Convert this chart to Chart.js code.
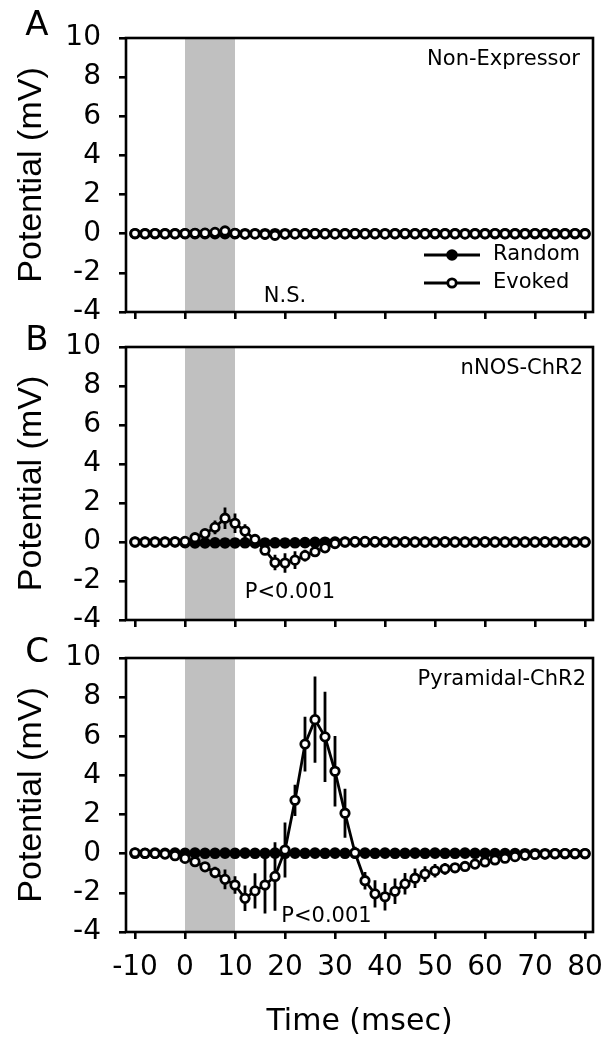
<!DOCTYPE html>
<html>
<head>
<meta charset="utf-8">
<script src="https://cdn.jsdelivr.net/npm/chart.js@4"></script>
<style>
    html, body { margin: 0; padding: 0; background: #fff; }
    body { width: 605px; height: 1045px; position: relative; overflow: hidden; }
    .panel { position: absolute; left: 0; width: 605px; }
    .panel canvas { display: block; }
</style>
</head>
<body>
<div class="panel" style="top:0px"><canvas id="chartA" width="605" height="335"></canvas></div>
<div class="panel" style="top:325px"><canvas id="chartB" width="605" height="320"></canvas></div>
<div class="panel" style="top:635px"><canvas id="chartC" width="605" height="410"></canvas></div>
<script>
// time after stimulus onset (msec)
const time = [-10, -8, -6, -4, -2, 0, 2, 4, 6, 8,
    10, 12, 14, 16, 18, 20, 22, 24, 26, 28,
    30, 32, 34, 36, 38, 40, 42, 44, 46, 48,
    50, 52, 54, 56, 58, 60, 62, 64, 66, 68,
    70, 72, 74, 76, 78, 80];
const xTicks = [-10, 0, 10, 20, 30, 40, 50, 60, 70, 80];
const yTicks = [-4, -2, 0, 2, 4, 6, 8, 10];
// light pulse (grey band)
const stimWindow = [0, 10];

// A - Non-Expressor
const evokedA = [0.01, 0.00, 0.01, 0.00, 0.00, 0.01, 0.02, 0.03, 0.07, 0.14,
    0.02, -0.02, -0.01, -0.03, -0.08, -0.02, -0.01, 0.00, 0.01, 0.00,
    -0.01, 0.00, 0.01, 0.00, 0.00, -0.01, 0.00, 0.01, 0.00, 0.00,
    0.01, 0.00, 0.00, -0.01, 0.00, 0.00, 0.01, 0.00, 0.00, 0.00,
    0.01, 0.00, 0.00, 0.00, 0.01, 0.00];
const evokedErrA = [0.04, 0.04, 0.04, 0.04, 0.04, 0.05, 0.05, 0.06, 0.08, 0.10,
    0.08, 0.06, 0.05, 0.05, 0.06, 0.05, 0.04, 0.04, 0.04, 0.04,
    0.04, 0.04, 0.04, 0.04, 0.04, 0.04, 0.04, 0.04, 0.04, 0.04,
    0.04, 0.04, 0.04, 0.04, 0.04, 0.04, 0.04, 0.04, 0.04, 0.04,
    0.04, 0.04, 0.04, 0.04, 0.04, 0.04];
const randomA = [0.00, 0.00, 0.00, 0.00, 0.00, 0.00, 0.00, 0.00, 0.00, 0.00,
    0.00, 0.00, 0.00, 0.00, 0.00, 0.00, 0.00, 0.00, 0.00, 0.00,
    0.00, 0.00, 0.00, 0.00, 0.00, 0.00, 0.00, 0.00, 0.00, 0.00,
    0.00, 0.00, 0.00, 0.00, 0.00, 0.00, 0.00, 0.00, 0.00, 0.00,
    0.00, 0.00, 0.00, 0.00, 0.00, 0.00];

// B - nNOS-ChR2
const evokedB = [0.00, 0.00, 0.00, 0.00, 0.01, 0.03, 0.22, 0.43, 0.75, 1.22,
    0.96, 0.56, 0.13, -0.42, -1.05, -1.08, -0.93, -0.70, -0.50, -0.30,
    -0.08, 0.00, 0.02, 0.03, 0.02, 0.01, 0.00, 0.01, 0.00, 0.00,
    0.00, 0.01, 0.00, 0.00, 0.00, 0.01, 0.00, 0.00, 0.00, 0.00,
    0.00, 0.01, 0.00, 0.00, 0.00, 0.00];
const evokedErrB = [0.05, 0.05, 0.05, 0.05, 0.05, 0.08, 0.15, 0.22, 0.35, 0.55,
    0.50, 0.35, 0.20, 0.25, 0.40, 0.50, 0.45, 0.30, 0.20, 0.15,
    0.10, 0.06, 0.05, 0.05, 0.05, 0.05, 0.05, 0.05, 0.05, 0.05,
    0.05, 0.05, 0.05, 0.05, 0.05, 0.05, 0.05, 0.05, 0.05, 0.05,
    0.05, 0.05, 0.05, 0.05, 0.05, 0.05];
const randomB = [0.00, 0.00, 0.00, 0.00, 0.00, -0.03, -0.05, -0.05, -0.04, -0.05,
    -0.05, -0.04, -0.05, -0.05, -0.04, -0.05, -0.04, -0.03, -0.02, -0.01,
    0.00, 0.00, 0.00, 0.00, 0.00, 0.00, 0.00, 0.00, 0.00, 0.00,
    0.00, 0.00, 0.00, 0.00, 0.00, 0.00, 0.00, 0.00, 0.00, 0.00,
    0.00, 0.00, 0.00, 0.00, 0.00, 0.00];

// C - Pyramidal-ChR2
const evokedC = [0.05, 0.02, 0.01, -0.02, -0.10, -0.24, -0.41, -0.67, -0.96, -1.31,
    -1.60, -2.28, -1.90, -1.60, -1.16, 0.19, 2.73, 5.60, 6.85, 5.97,
    4.21, 2.07, 0.05, -1.38, -2.05, -2.20, -1.92, -1.54, -1.25, -1.04,
    -0.87, -0.77, -0.72, -0.65, -0.53, -0.42, -0.32, -0.23, -0.15, -0.08,
    -0.04, -0.02, 0.00, 0.01, 0.01, 0.01];
const evokedErrC = [0.05, 0.05, 0.05, 0.05, 0.08, 0.10, 0.15, 0.20, 0.30, 0.50,
    0.45, 0.65, 0.90, 1.45, 1.75, 1.40, 0.80, 1.40, 2.20, 2.30,
    1.80, 1.25, 0.30, 0.45, 0.70, 0.70, 0.65, 0.55, 0.50, 0.40,
    0.35, 0.30, 0.25, 0.20, 0.15, 0.12, 0.10, 0.08, 0.06, 0.05,
    0.05, 0.05, 0.05, 0.05, 0.05, 0.05];
const randomC = [0.02, 0.02, 0.03, 0.02, 0.03, 0.02, 0.03, 0.02, 0.02, 0.03,
    0.02, 0.03, 0.02, 0.02, 0.03, 0.02, 0.03, 0.02, 0.03, 0.02,
    0.03, 0.02, 0.02, 0.03, 0.02, 0.03, 0.02, 0.02, 0.03, 0.02,
    0.03, 0.02, 0.02, 0.03, 0.02, 0.02, 0.01, 0.01, 0.01, 0.00,
    0.00, 0.00, 0.00, 0.00, 0.00, 0.00];
const randomErr = [0.06, 0.06, 0.06, 0.06, 0.06, 0.06, 0.06, 0.06, 0.06, 0.06,
    0.06, 0.06, 0.06, 0.06, 0.06, 0.06, 0.06, 0.06, 0.06, 0.06,
    0.06, 0.06, 0.06, 0.06, 0.06, 0.06, 0.06, 0.06, 0.06, 0.06,
    0.06, 0.06, 0.06, 0.06, 0.06, 0.06, 0.06, 0.06, 0.06, 0.06,
    0.06, 0.06, 0.06, 0.06, 0.06, 0.06];

const labelFont = "DejaVu Sans";

// panel layout (pixels inside each canvas)
const panels = [
    { id: "chartA", letter: "A", name: "Non-Expressor", stat: "N.S.", statAt: [20, -3.2],
      evoked: evokedA, evokedErr: evokedErrA, random: randomA,
      padTop: 38, xHeight: 23, letterDy: -12, nameDx: -13, showX: false, legend: true },
    { id: "chartB", letter: "B", name: "nNOS-ChR2", stat: "P<0.001", statAt: [21, -2.6],
      evoked: evokedB, evokedErr: evokedErrB, random: randomB,
      padTop: 22, xHeight: 25, letterDy: -6, nameDx: -10, showX: false, legend: false },
    { id: "chartC", letter: "C", name: "Pyramidal-ChR2", stat: "P<0.001", statAt: [28.3, -3.2],
      evoked: evokedC, evokedErr: evokedErrC, random: randomC,
      padTop: 23, xHeight: 113, letterDy: -5, nameDx: -7, showX: true, legend: false },
];

const panelDecor = {
    id: "panelDecor",
    beforeDatasetsDraw(chart) {
        const { ctx, chartArea: a, scales: { x } } = chart;
        const x0 = x.getPixelForValue(stimWindow[0]);
        const x1 = x.getPixelForValue(stimWindow[1]);
        ctx.save();
        ctx.fillStyle = "#c0c0c0";
        ctx.fillRect(x0, a.top, x1 - x0, a.bottom - a.top);
        ctx.restore();
    },
    // error bars go under each series' own markers
    beforeDatasetDraw(chart, args) {
        const ds = chart.data.datasets[args.index];
        if (!ds.errors) return;
        const { ctx, scales: { x, y } } = chart;
        ctx.save();
        ctx.strokeStyle = "#000";
        ctx.lineWidth = 2.8;
        ctx.beginPath();
        ds.data.forEach((p, i) => {
            const px = x.getPixelForValue(p.x);
            ctx.moveTo(px, y.getPixelForValue(p.y - ds.errors[i]));
            ctx.lineTo(px, y.getPixelForValue(p.y + ds.errors[i]));
        });
        ctx.stroke();
        ctx.restore();
    },
    afterDatasetsDraw(chart, args, opts) {
        const { ctx, chartArea: a, scales: { x, y } } = chart;
        const cfg = opts.cfg;
        ctx.save();
        ctx.strokeStyle = "#000";
        ctx.lineWidth = 2.6;
        ctx.strokeRect(a.left, a.top, a.right - a.left, a.bottom - a.top);

        ctx.fillStyle = "#000";
        ctx.textBaseline = "middle";
        ctx.font = "34px " + labelFont;
        ctx.textAlign = "center";
        ctx.fillText(cfg.letter, a.left - 89, a.top + cfg.letterDy);

        ctx.font = "21px " + labelFont;
        ctx.textAlign = "right";
        ctx.fillText(cfg.name, a.right + cfg.nameDx, a.top + 22);

        ctx.textAlign = "center";
        ctx.fillText(cfg.stat, x.getPixelForValue(cfg.statAt[0]), y.getPixelForValue(cfg.statAt[1]));

        if (cfg.legend) {
            const items = [chart.data.datasets[1], chart.data.datasets[0]];
            items.forEach((ds, i) => {
                const ly = a.bottom - 57 + i * 28;
                const lx = a.right - 169;
                ctx.beginPath();
                ctx.lineWidth = ds.borderWidth;
                ctx.moveTo(lx, ly);
                ctx.lineTo(lx + 56, ly);
                ctx.stroke();
                ctx.beginPath();
                ctx.arc(lx + 28, ly, ds.pointRadius, 0, Math.PI * 2);
                ctx.fillStyle = ds.pointBackgroundColor;
                ctx.fill();
                ctx.lineWidth = ds.pointBorderWidth;
                ctx.stroke();
                ctx.fillStyle = "#000";
                ctx.textAlign = "left";
                ctx.fillText(ds.label, lx + 69, ly);
            });
        }
        ctx.restore();
    }
};

function makePanel(cfg) {
    const evokedPts = time.map((t, i) => ({ x: t, y: cfg.evoked[i] }));
    const randomPts = time.map((t, i) => ({ x: t, y: cfg.random[i] }));

    new Chart(document.getElementById(cfg.id), {
        type: "line",
        data: {
            datasets: [
                {
                    label: "Evoked",
                    data: evokedPts,
                    errors: cfg.evokedErr,
                    borderColor: "#000",
                    borderWidth: 2.8,
                    pointRadius: 4.2,
                    pointBorderWidth: 2.8,
                    pointBackgroundColor: "#fff",
                    pointBorderColor: "#000",
                    tension: 0,
                },
                {
                    label: "Random",
                    data: randomPts,
                    errors: randomErr,
                    borderColor: "#000",
                    borderWidth: 2.8,
                    pointRadius: 4.8,
                    pointBorderWidth: 2,
                    pointBackgroundColor: "#000",
                    pointBorderColor: "#000",
                    tension: 0,
                },
            ],
        },
        options: {
            responsive: false,
            animation: false,
            events: [],
            layout: { padding: { left: 0, right: 12, top: cfg.padTop, bottom: 0 } },
            plugins: {
                legend: { display: false },
                tooltip: { enabled: false },
                panelDecor: { cfg: cfg },
            },
            scales: {
                x: {
                    type: "linear",
                    min: -11.8,
                    max: 81.6,
                    afterBuildTicks: (s) => {
                        s.ticks = xTicks.map((v) => ({ value: v }));
                    },
                    afterFit: (s) => {
                        s.height = cfg.xHeight;
                        s.paddingLeft = 0;
                        s.paddingRight = 0;
                    },
                    ticks: {
                        display: cfg.showX,
                        color: "#000",
                        padding: 12,
                        maxRotation: 0,
                        font: { family: labelFont, size: 28 },
                    },
                    grid: { drawOnChartArea: false, tickLength: 7, color: "#000", lineWidth: 2.6 },
                    border: { display: false },
                    title: {
                        display: cfg.showX,
                        text: "Time (msec)",
                        color: "#000",
                        font: { family: labelFont, size: 30 },
                        padding: { top: 0, bottom: 5 },
                    },
                },
                y: {
                    min: -4,
                    max: 10,
                    afterBuildTicks: (s) => {
                        s.ticks = yTicks.map((v) => ({ value: v }));
                    },
                    afterFit: (s) => {
                        s.width = 126;
                        s.paddingTop = 0;
                        s.paddingBottom = 0;
                    },
                    ticks: {
                        color: "#000",
                        padding: 18,
                        font: { family: labelFont, size: 28 },
                    },
                    grid: { drawOnChartArea: false, tickLength: 7, color: "#000", lineWidth: 2.6 },
                    border: { display: false },
                    title: {
                        display: true,
                        text: "Potential (mV)",
                        color: "#000",
                        font: { family: "Liberation Sans", size: 34 },
                        padding: { top: 11, bottom: 0 },
                    },
                },
            },
        },
        plugins: [panelDecor],
    });
}

panels.forEach(makePanel);
</script>
</body>
</html>
